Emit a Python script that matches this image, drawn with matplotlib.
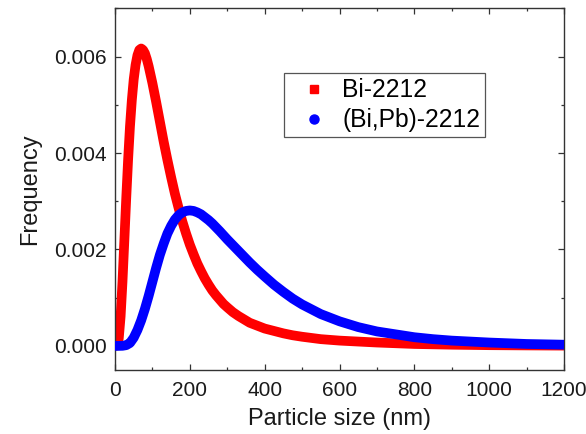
import matplotlib
matplotlib.use('Agg')
import matplotlib.pyplot as plt
from matplotlib.lines import Line2D
from matplotlib.ticker import MultipleLocator, FormatStrFormatter

plt.rcParams['font.family'] = ['Liberation Sans', 'DejaVu Sans']

# ---- data ----
bi_size = [0, 5, 10, 15, 20, 25, 30, 35, 40, 45, 50, 55, 60, 65, 70, 75, 80, 85, 90,
           100, 110, 120, 130, 140, 150, 160, 170, 180, 190, 200, 210, 220, 230, 240, 250,
           260, 270, 280, 290, 300, 315, 330, 345, 360, 380, 400, 425, 450, 475, 500, 550,
           600, 700, 800, 900, 1000, 1100, 1200]
bi_freq = [0.0, 0.00001, 0.00015, 0.00061, 0.00133, 0.00219, 0.00306, 0.00386, 0.00455,
           0.00510, 0.00553, 0.00583, 0.00603, 0.00614, 0.00617, 0.00614, 0.00607, 0.00595,
           0.00580, 0.00545, 0.00506, 0.00465, 0.00424, 0.00386, 0.00350, 0.00316, 0.00286,
           0.00258, 0.00233, 0.00210, 0.00190, 0.00171, 0.00155, 0.00140, 0.00127, 0.00115,
           0.00105, 0.00096, 0.00087, 0.00080, 0.00070, 0.00062, 0.00055, 0.00048, 0.00042,
           0.00036, 0.00031, 0.00026, 0.00022, 0.00019, 0.00014, 0.00011, 0.00007, 0.00004,
           0.000025, 0.000015, 0.00001, 0.000006]

bipb_size = [0, 10, 20, 30, 40, 50, 60, 70, 80, 90, 100, 110, 120, 130, 140, 150, 160, 170,
             180, 190, 200, 210, 220, 230, 240, 250, 260, 280, 300, 320, 340, 360, 380, 400,
             425, 450, 475, 500, 550, 600, 650, 700, 750, 800, 850, 900, 950, 1000, 1100, 1200]
bipb_freq = [0.0, 0.0, 0.000002, 0.000015, 0.00006, 0.00017, 0.00033, 0.00053, 0.00077,
             0.00104, 0.00133, 0.00162, 0.00189, 0.00212, 0.00233, 0.00249, 0.00262, 0.00271,
             0.00277, 0.00280, 0.00281, 0.00280, 0.00277, 0.00273, 0.00267, 0.00261, 0.00254,
             0.00238, 0.00221, 0.00205, 0.00189, 0.00173, 0.00158, 0.00144, 0.00127, 0.00112,
             0.00098, 0.00086, 0.00066, 0.00051, 0.00039, 0.00030, 0.00024, 0.00018, 0.00014,
             0.00011, 0.00009, 0.00007, 0.00004, 0.000025]

series_labels = ['Bi-2212', '(Bi,Pb)-2212']
series_colors = ['#ff0000', '#0000ff']
x_label = 'Particle size (nm)'
y_label = 'Frequency'

# ---- figure ----
fig = plt.figure(figsize=(5.86, 4.34), dpi=100)
ax = fig.add_axes([115 / 586, 1 - 370 / 434, 449 / 586, 362 / 434])

ax.plot(bi_size, bi_freq, color=series_colors[0], lw=7.0,
        solid_joinstyle='round', solid_capstyle='butt', zorder=2)
ax.plot(bipb_size, bipb_freq, color=series_colors[1], lw=7.0,
        solid_joinstyle='round', solid_capstyle='butt', zorder=3)

ax.set_xlim(0, 1200)
ax.set_ylim(-0.0005, 0.00701)
ax.xaxis.set_major_locator(MultipleLocator(200))
ax.xaxis.set_minor_locator(MultipleLocator(100))
ax.yaxis.set_major_locator(MultipleLocator(0.002))
ax.yaxis.set_minor_locator(MultipleLocator(0.001))
ax.yaxis.set_major_formatter(FormatStrFormatter('%.3f'))

ax.tick_params(which='both', direction='in', top=True, right=True,
               width=0.9, color='#333333')
ax.tick_params(which='major', length=4, labelsize=15, labelcolor='#1a1a1a')
ax.tick_params(axis='x', which='major', pad=8)
ax.tick_params(axis='y', which='major', pad=6)
ax.tick_params(which='minor', length=2.5)
for s in ax.spines.values():
    s.set_linewidth(1.0)
    s.set_color('#333333')

ax.set_xlabel(x_label, fontsize=17, labelpad=5.5, color='#1a1a1a')
ax.set_ylabel(y_label, fontsize=17, labelpad=9.5, color='#1a1a1a')

handles = [Line2D([], [], ls='none', marker='s', ms=5.5, color=series_colors[0]),
           Line2D([], [], ls='none', marker='o', ms=6.5, color=series_colors[1])]
leg = ax.legend(handles, series_labels, loc='upper left',
                bbox_to_anchor=((284 - 115) / 449, (370 - 73.3) / 362),
                borderaxespad=0, fontsize=17.7, frameon=True, fancybox=False,
                edgecolor='#555555', framealpha=1, borderpad=0.2, handlelength=2.0,
                handletextpad=0.16, labelspacing=0.25, numpoints=1)
leg.get_frame().set_linewidth(0.9)

fig.savefig('out.png', dpi=100)
